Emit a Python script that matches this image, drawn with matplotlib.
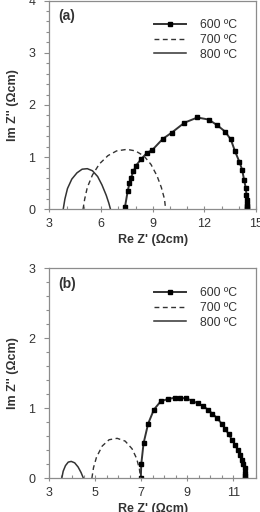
import matplotlib
matplotlib.use("Agg")
import matplotlib.pyplot as plt
from matplotlib.ticker import MultipleLocator

plt.rcParams['font.family'] = ['Liberation Sans', 'DejaVu Sans']

# ---- panel (a) data ----
a_x600 = [7.39, 7.55, 7.65, 7.74, 7.88, 8.03, 8.32, 8.65, 8.98, 9.58, 10.10, 10.84, 11.59,
          12.25, 12.75, 13.20, 13.53, 13.78, 14.03, 14.19, 14.30, 14.40, 14.44, 14.46, 14.48,
          14.49, 14.50, 14.50]
a_y600 = [0.05, 0.36, 0.50, 0.61, 0.73, 0.84, 0.96, 1.08, 1.14, 1.35, 1.47, 1.66, 1.76,
          1.72, 1.61, 1.49, 1.34, 1.11, 0.91, 0.76, 0.57, 0.41, 0.28, 0.18, 0.10,
          0.06, 0.03, 0.0]
a_x700 = [4.95, 5.05, 5.2, 5.5, 5.9, 6.4, 6.9, 7.5, 8.0, 8.5, 8.9, 9.25, 9.5, 9.68, 9.75]
a_y700 = [0.0, 0.2, 0.42, 0.66, 0.87, 1.03, 1.12, 1.15, 1.12, 1.02, 0.86, 0.64, 0.42, 0.2, 0.0]
a_x800 = [3.8, 3.9, 4.05, 4.3, 4.6, 4.9, 5.2, 5.5, 5.8, 6.05, 6.3, 6.45, 6.55]
a_y800 = [0.0, 0.2, 0.4, 0.58, 0.7, 0.77, 0.78, 0.74, 0.63, 0.47, 0.27, 0.12, 0.0]
a_xticks = [3, 6, 9, 12, 15]

# ---- panel (b) data ----
b_x600 = [6.98, 7.0, 7.1, 7.3, 7.55, 7.85, 8.15, 8.45, 8.7, 8.95, 9.2, 9.45, 9.7, 9.9,
          10.1, 10.3, 10.5, 10.65, 10.8, 10.95, 11.1, 11.2, 11.3, 11.4, 11.45, 11.5,
          11.52, 11.53, 11.53]
b_y600 = [0.0, 0.2, 0.5, 0.78, 0.98, 1.1, 1.13, 1.15, 1.15, 1.14, 1.11, 1.07, 1.03, 0.98,
          0.92, 0.86, 0.78, 0.71, 0.63, 0.55, 0.47, 0.4, 0.33, 0.26, 0.2, 0.14,
          0.08, 0.03, 0.0]
b_x700 = [4.85, 4.92, 5.05, 5.3, 5.6, 5.95, 6.3, 6.6, 6.8, 6.92, 6.97]
b_y700 = [0.0, 0.15, 0.3, 0.46, 0.55, 0.57, 0.53, 0.42, 0.28, 0.13, 0.0]
b_x800 = [3.54, 3.6, 3.7, 3.82, 3.95, 4.1, 4.25, 4.38, 4.48]
b_y800 = [0.0, 0.1, 0.18, 0.23, 0.24, 0.22, 0.16, 0.08, 0.0]
b_xticks = [3, 5, 7, 9, 11]

labels = ['600 \u00baC', '700 \u00baC', '800 \u00baC']

line_c = '#333333'
spine_c = '#8c8c8c'
text_c = '#333333'

fig = plt.figure(figsize=(2.6, 5.12), dpi=100)

panels = [
    dict(rect=[0.19, 0.591, 0.795, 0.408], tag='(a)', xlim=(3, 15), ylim=(0, 4),
         xticks=a_xticks, xmin=1, ymaj=1, ymin=0.2,
         d=((a_x600, a_y600), (a_x700, a_y700), (a_x800, a_y800))),
    dict(rect=[0.19, 0.066, 0.795, 0.410], tag='(b)', xlim=(3, 12), ylim=(0, 3),
         xticks=b_xticks, xmin=0.5, ymaj=1, ymin=0.2,
         d=((b_x600, b_y600), (b_x700, b_y700), (b_x800, b_y800))),
]

for p in panels:
    ax = fig.add_axes(p['rect'])
    (x6, y6), (x7, y7), (x8, y8) = p['d']
    ax.plot(x6, y6, color=line_c, lw=1.4, marker='s', ms=2.3, mfc='black', mec='black',
            label=labels[0])
    ax.plot(x7, y7, color=line_c, lw=1.0, ls=(0, (3.5, 2.5)), label=labels[1])
    ax.plot(x8, y8, color=line_c, lw=1.1, label=labels[2])
    ax.set_xlim(*p['xlim'])
    ax.set_ylim(*p['ylim'])
    ax.set_xticks(p['xticks'])
    ax.xaxis.set_minor_locator(MultipleLocator(p['xmin']))
    ax.yaxis.set_major_locator(MultipleLocator(p['ymaj']))
    ax.yaxis.set_minor_locator(MultipleLocator(p['ymin']))
    ax.tick_params(axis='x', which='major', direction='inout', length=5, width=0.8,
                   color=spine_c, labelsize=9, labelcolor=text_c, pad=3.5)
    ax.tick_params(axis='x', which='minor', direction='in', length=2.5, width=0.8,
                   color=spine_c)
    ax.tick_params(axis='y', which='major', direction='out', length=3.5, width=0.8,
                   color=spine_c, labelsize=9, labelcolor=text_c, pad=6.5)
    ax.tick_params(axis='y', which='minor', direction='out', length=2, width=0.8,
                   color=spine_c)
    for s in ax.spines.values():
        s.set_color(spine_c)
        s.set_linewidth(0.9)
    ax.set_xlabel("Re Z' (\u03a9cm)", fontsize=9, fontweight='bold', color=text_c, labelpad=3)
    ax.set_ylabel("Im Z'' (\u03a9cm)", fontsize=9, fontweight='bold', color=text_c, labelpad=6.5)
    ax.text(0.045, 0.925, p['tag'], transform=ax.transAxes, fontsize=10, fontweight='bold',
            color=text_c, va='center', ha='left')
    leg = ax.legend(loc='upper left', bbox_to_anchor=(0.505, 0.91), frameon=False,
                    fontsize=8.8, handlelength=2.6, handletextpad=1.2, labelspacing=0.22,
                    borderpad=0, borderaxespad=0)
    for t in leg.get_texts():
        t.set_color(text_c)

fig.savefig('out.png', dpi=100)
